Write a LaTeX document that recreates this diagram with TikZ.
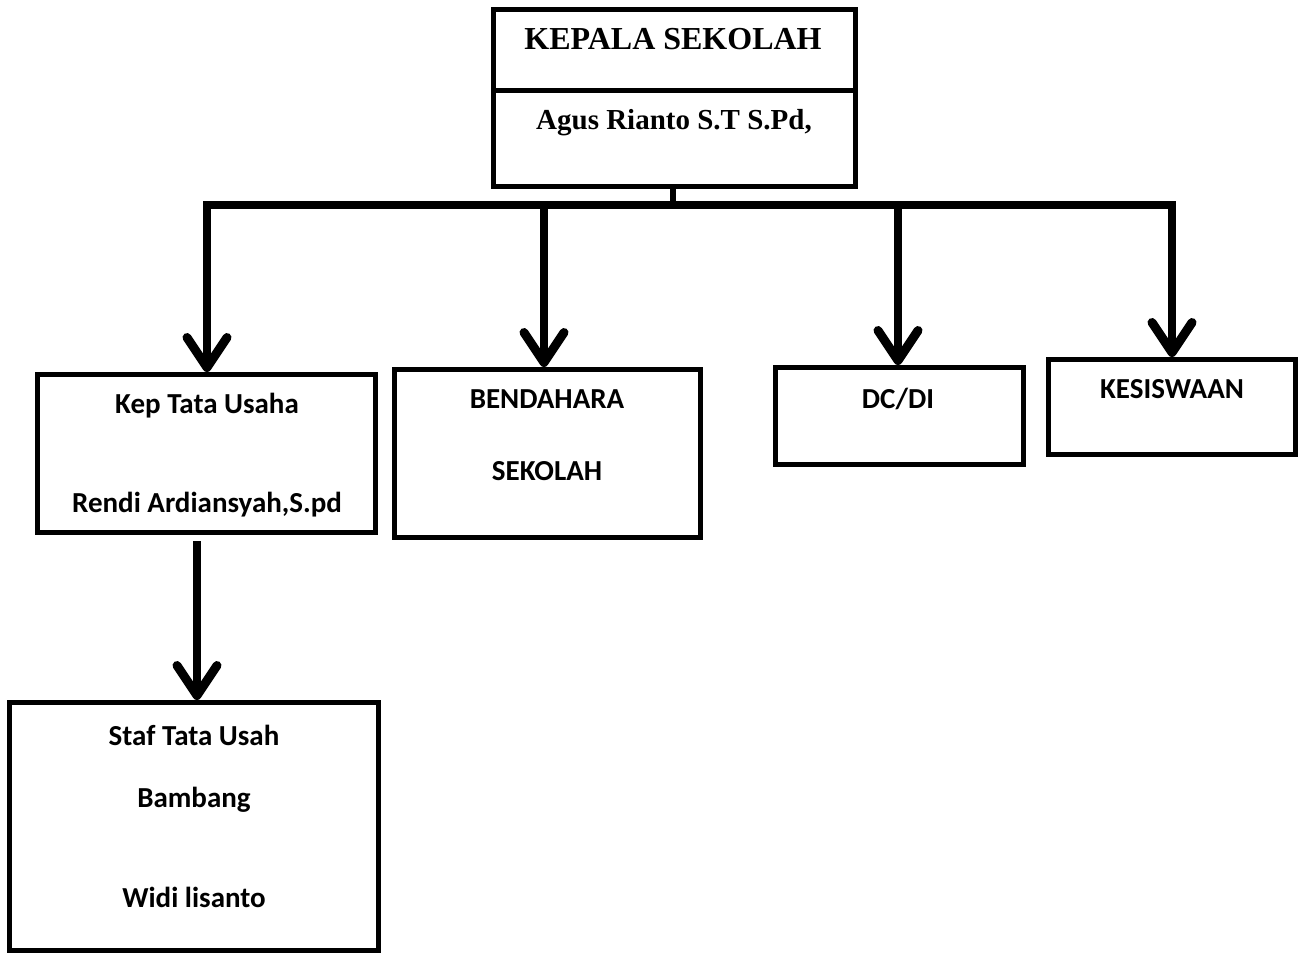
\documentclass[tikz,border=0pt]{standalone}
\usepackage{fontspec}
\setmainfont{Liberation Serif}
\newfontfamily\calfont{Carlito}
\usetikzlibrary{arrows.meta}
\tikzset{
  box/.style={draw=black, line width=5pt, rectangle, inner sep=0pt, fill=white},
  serifA/.style={anchor=base, inner sep=0pt, font=\fontsize{32}{38}\selectfont\bfseries},
  serifB/.style={anchor=base, inner sep=0pt, font=\fontsize{29}{34}\selectfont\bfseries},
  lbl/.style={anchor=base, inner sep=0pt, font=\calfont\fontsize{29}{34}\selectfont\bfseries},
  bus/.style={line width=8pt, line cap=rect},
  conn/.style={line width=8pt, -{Straight Barb[length=30pt,width=40pt,round,line width=9pt]}},
}
\begin{document}
\begin{tikzpicture}[x=1pt,y=-1pt]
\useasboundingbox (0,0) rectangle (1302,955);
% boxes
\node[box, minimum width=362pt, minimum height=177pt] (top) at (674.5,98) {};
\node[box, minimum width=338pt, minimum height=158pt] (kep) at (206.5,453.5) {};
\node[box, minimum width=306pt, minimum height=168pt] (bend) at (547.5,453.5) {};
\node[box, minimum width=248pt, minimum height=97pt] (dcdi) at (899.5,416) {};
\node[box, minimum width=247pt, minimum height=95pt] (kes) at (1172,407) {};
\node[box, minimum width=369pt, minimum height=248pt] (staf) at (194,826.5) {};
% divider in top box
\coordinate (dl) at (491,91);
\coordinate (dr) at (858,91);
\draw[line width=5pt] (dl -| top.west) -- (dr -| top.east);
% texts
\node[serifA] (t1) at (673,50) {KEPALA SEKOLAH};
\node[serifB] (t2) at (674,130) {Agus Rianto S.T S.Pd,};
\node[lbl] (k1) at (207,413) {Kep Tata Usaha};
\node[lbl] (k2) at (207,512) {Rendi Ardiansyah,S.pd};
\node[lbl] (b1) at (547,408) {BENDAHARA};
\node[lbl] (b2) at (547,480) {SEKOLAH};
\node[lbl] (d1) at (898,408) {DC/DI};
\node[lbl] (s1) at (1172,398) {KESISWAAN};
\node[lbl] (f1) at (194,745) {Staf Tata Usah};
\node[lbl] (f2) at (194,807) {Bambang};
\node[lbl] (f3) at (194,907) {Widi lisanto};
% connectors
\coordinate (jt) at (673,205);
\coordinate (j1) at (207,205);
\coordinate (j2) at (544,205);
\coordinate (j3) at (898,205);
\coordinate (j4) at (1172,205);
\draw[line width=6pt] (top.south -| jt) -- (jt);
\draw[bus] (j1) -- (j4);
\draw[conn] (j1) -- (j1 |- kep.north);
\draw[conn] (j2) -- (j2 |- bend.north);
\draw[conn] (j3) -- (j3 |- dcdi.north);
\draw[conn] (j4) -- (j4 |- kes.north);
\coordinate (js) at (197,541);
\draw[conn] (js) -- (js |- staf.north);
\end{tikzpicture}
\end{document}
